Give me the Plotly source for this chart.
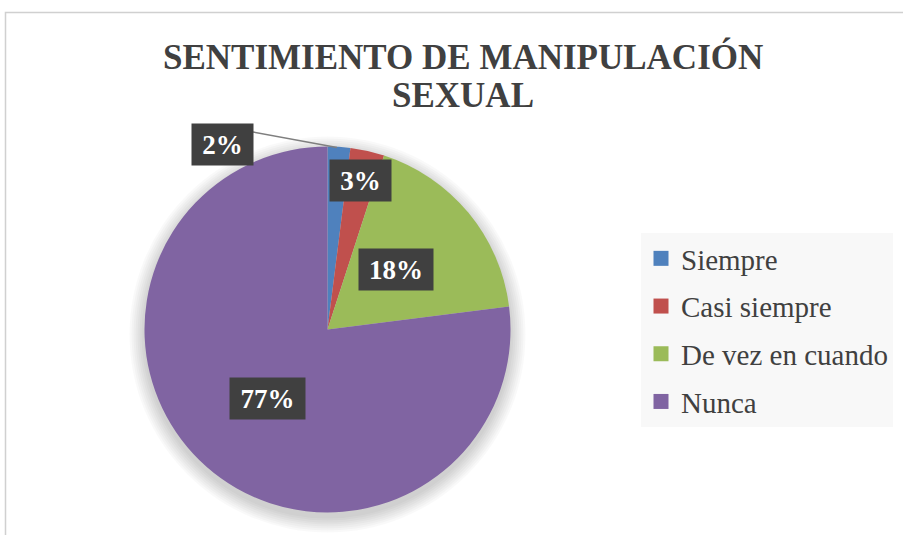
import plotly.graph_objects as go

# ---- data ----
categories = ["Siempre", "Casi siempre", "De vez en cuando", "Nunca"]
values = [2, 3, 18, 77]
colors = ["#4f81bd", "#c0504d", "#9bbb59", "#8064a2"]
title_lines = ["SENTIMIENTO DE MANIPULACIÓN", "SEXUAL"]

# ---- layout helpers (pixel -> paper) ----
W, H = 903, 535
def px(x):
    return x / W
def py(y):
    return 1 - y / H

SERIF = "Liberation Serif, Times New Roman, serif"
cx, cy, r = 327.5, 329.5, 183
label_pos = [(222.5, 145), (360, 180), (396, 270), (267.5, 398.5)]
label_w = [61, 61, 74, 75]

fig = go.Figure()

fig.add_trace(go.Pie(
    labels=categories, values=values, sort=False, direction="clockwise",
    rotation=0, textinfo="none", hoverinfo="label+percent",
    marker=dict(colors=colors, line=dict(width=0)),
    domain=dict(x=[px(cx - r), px(cx + r)], y=[py(cy + r), py(cy - r)]),
    showlegend=False,
))

# legend entries
for cat, col in zip(categories, colors):
    fig.add_trace(go.Scatter(
        x=[None], y=[None], mode="markers", name=cat, legendgroup=cat,
        marker=dict(symbol="square", size=15, color=col),
    ))

total = sum(values)
annotations = []
for (lx, ly), w, v in zip(label_pos, label_w, values):
    annotations.append(dict(
        x=px(lx), y=py(ly), xref="paper", yref="paper", showarrow=False,
        text=f"<b>{round(100 * v / total)}%</b>", width=w, height=41,
        bgcolor="#404040", borderpad=0,
        font=dict(family=SERIF, size=27, color="white"),
        xanchor="center", yanchor="middle",
    ))
for i, line in enumerate(title_lines):
    annotations.append(dict(
        x=px(463), y=py(57 + 38 * i), xref="paper", yref="paper", showarrow=False,
        text=f"<b>{line}</b>", xanchor="center", yanchor="middle",
        font=dict(family=SERIF, size=35, color="#404040"),
    ))

shapes = []
# soft shadow under the pie
for k in range(8):
    rr = r + 1 + 2 * k
    shapes.append(dict(
        type="circle", xref="paper", yref="paper", layer="below",
        x0=px(cx - rr), x1=px(cx + rr), y0=py(cy + 5 + rr), y1=py(cy + 5 - rr),
        fillcolor="rgba(0,0,0,0.025)", line=dict(width=0),
    ))
# chart area border
shapes.append(dict(
    type="rect", xref="paper", yref="paper", layer="below",
    x0=px(5.5), x1=1.2, y0=-0.2, y1=py(12.5),
    line=dict(color="#d0d0d0", width=1.5), fillcolor="rgba(0,0,0,0)",
))
# leader line for the small slice
shapes.append(dict(
    type="line", xref="paper", yref="paper",
    x0=px(253), y0=py(132), x1=px(337), y1=py(147.5),
    line=dict(color="#7f7f7f", width=1.5),
))

fig.update_layout(
    width=W, height=H, margin=dict(l=0, r=0, t=0, b=0),
    paper_bgcolor="white", plot_bgcolor="rgba(0,0,0,0)",
    xaxis=dict(visible=False), yaxis=dict(visible=False),
    annotations=annotations, shapes=shapes,
    legend=dict(
        x=px(641), y=py(233), xanchor="left", yanchor="top",
        bgcolor="#f8f8f8", traceorder="grouped", tracegroupgap=7,
        font=dict(family=SERIF, size=29, color="#404040"),
        itemclick=False, itemdoubleclick=False,
    ),
)

fig.write_html("out.html", config={"displayModeBar": False},
               post_script="document.body.style.margin='0';")
